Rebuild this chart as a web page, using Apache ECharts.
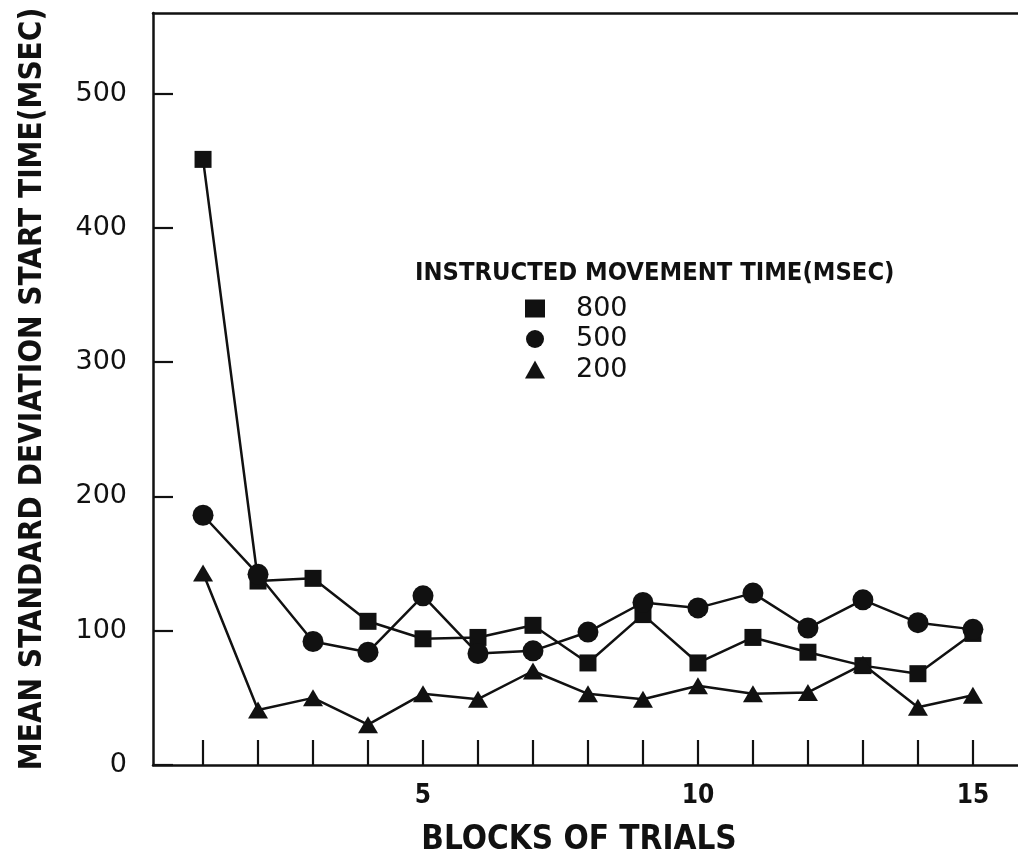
<!DOCTYPE html>
<html>
<head>
<meta charset="utf-8">
<script src="https://cdn.jsdelivr.net/npm/echarts@6/dist/echarts.min.js"></script>
<style>html,body{margin:0;padding:0;background:#fff}#c{width:1018px;height:866px}</style>
</head>
<body>
<div id="c"></div>
<script>
const blocks = [1,2,3,4,5,6,7,8,9,10,11,12,13,14,15];
const sd800 = [451,137,139,107,94,95,104,76,112,76,95,84,74,68,98];
const sd500 = [186,142,92,84,126,83,85,99,121,117,128,102,123,106,101];
const sd200 = [143,41,50,30,53,49,70,53,49,59,53,54,75,43,52];
const seriesNames = ['800','500','200'];
const xLabelTicks = [5,10,15];
const yTicks = [0,100,200,300,400,500];
const legendTitle = 'INSTRUCTED MOVEMENT TIME(MSEC)';
const xTitle = 'BLOCKS OF TRIALS';
const yTitle = 'MEAN STANDARD DEVIATION START TIME(MSEC)';

const condensed = '"Liberation Sans Narrow","DejaVu Sans Condensed",sans-serif';
const geo = '"DejaVu Sans",sans-serif';
const ink = '#111';

function mk(name, data, symbol, size) {
  return {
    name: name, type: 'line', data: blocks.map((b,i)=>[b,data[i]]),
    symbol: symbol, symbolSize: size,
    lineStyle: {color: ink, width: 2.5},
    itemStyle: {color: ink, borderWidth: 0},
    emphasis: {disabled: true}, animation: false, z: 3
  };
}

const chart = echarts.init(document.getElementById('c'), null, {renderer: 'canvas'});
chart.setOption({
  backgroundColor: '#fff',
  animation: false,
  grid: {left: 153, right: 0, top: 13, bottom: 101, show: false, containLabel: false, outerBoundsMode: 'none'},
  title: {text: legendTitle, left: 410, top: 256, textStyle: {fontFamily: condensed, fontSize: 25.3, fontWeight: 'bold', color: ink}},
  legend: {
    orient: 'vertical', left: 520, top: 290, itemWidth: 20, itemHeight: 18, itemGap: 3.5,
    data: [{name:'800', icon:'rect'}, {name:'500', icon:'circle'}, {name:'200', icon:'triangle'}],
    itemStyle: {color: ink},
    textStyle: {fontFamily: geo, fontSize: 27, color: ink, padding: [0,0,0,26], lineHeight: 27},
    selectedMode: false
  },
  xAxis: [{
    type: 'value', min: 0.09, max: 15.82,
    name: xTitle, nameLocation: 'middle', nameGap: 59,
    nameTextStyle: {fontFamily: condensed, fontSize: 33, fontWeight: 'bold', color: ink, padding: [0,13,0,0]},
    axisLine: {lineStyle: {color: ink, width: 2.5}},
    axisTick: {inside: true, length: 25, lineStyle: {color: ink, width: 2.2}, customValues: blocks},
    axisLabel: {customValues: xLabelTicks, fontFamily: condensed, fontSize: 26, fontWeight: 'bold', color: ink, margin: 18},
    splitLine: {show: false}
  }, {
    type: 'value', position: 'top', min: 0.09, max: 15.82,
    axisLine: {show: true, lineStyle: {color: ink, width: 2.5}},
    axisTick: {show: false}, axisLabel: {show: false}, splitLine: {show: false}
  }],
  yAxis: {
    type: 'value', min: 0, max: 560, interval: 100,
    name: yTitle, nameLocation: 'middle', nameGap: 105, nameRotate: 90,
    nameTextStyle: {fontFamily: condensed, fontSize: 31.2, fontWeight: 'bold', color: ink},
    axisLine: {lineStyle: {color: ink, width: 2.5}},
    axisTick: {inside: true, length: 20, lineStyle: {color: ink, width: 2.2}, customValues: yTicks},
    axisLabel: {customValues: yTicks, fontFamily: geo, fontSize: 27, color: ink, margin: 26},
    splitLine: {show: false}
  },
  series: [
    mk(seriesNames[0], sd800, 'rect', 17),
    mk(seriesNames[1], sd500, 'circle', 21),
    mk(seriesNames[2], sd200, 'triangle', [20,17])
  ]
});
</script>
</body>
</html>
